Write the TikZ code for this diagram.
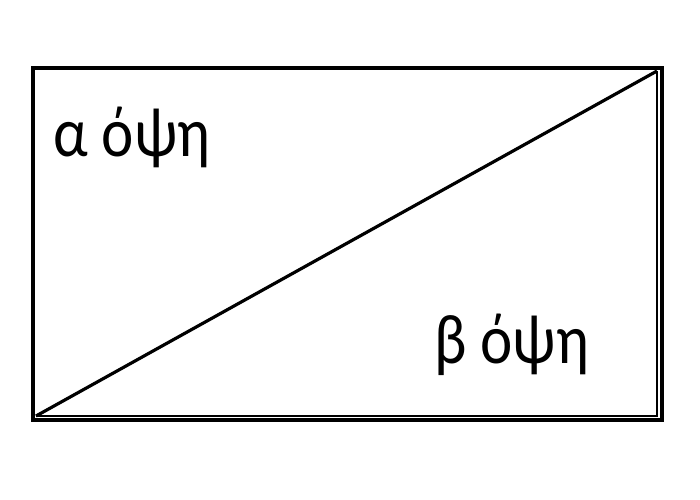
\documentclass[tikz,border=0pt]{standalone}
\usepackage{fontspec}
\setmainfont{Carlito}
\newcommand{\sidetext}[1]{\scalebox{0.87}[1]{\fontsize{40}{40}\selectfont #1}}
\begin{document}
\begin{tikzpicture}[x=0.02cm,y=-0.02cm]
            \useasboundingbox (0, 0) rectangle (700, 500);
            \coordinate (NW) at (33, 68);
            \coordinate (NE) at (662, 68);
            \coordinate (SE) at (662, 420);
            \coordinate (SW) at (33, 420);
            \coordinate (NEi) at (657, 71);
            \coordinate (SEi) at (657, 416);
            \coordinate (SWi) at (36, 416);

            \node[anchor=base west,inner sep=0pt] (A) at (53, 156) { \sidetext{α όψη} };
            \node[anchor=base west,inner sep=0pt] (B) at (434, 363) { \sidetext{β όψη} };

            \draw[line width=2pt] (NW) -- (NE) -- (SE) -- (SW) -- cycle;
            \draw[line width=1.6pt] (NEi) -- (SEi) -- (SWi);
            \draw[line width=1.8pt] (SWi) -- (NEi);

        \end{tikzpicture}
\end{document}
